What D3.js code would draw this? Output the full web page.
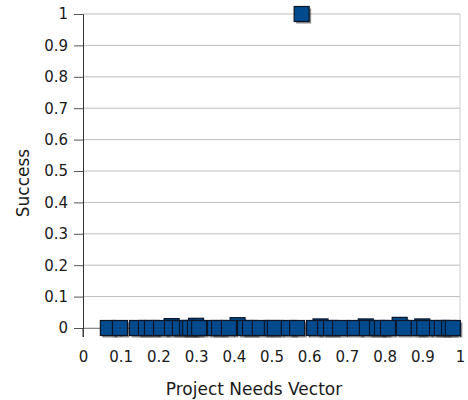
<!DOCTYPE html>
<html>
<head>
<meta charset="utf-8">
<script src="https://cdn.jsdelivr.net/npm/d3@7"></script>
<style>
  body { margin: 0; background: #fff; }
  text { font-family: "DejaVu Sans", sans-serif; fill: #1a1a1a; }
</style>
</head>
<body>
<div id="chart"></div>
<script>
var width = 468, height = 400
var margin = {top: 14, right: 8, bottom: 72, left: 83}

// needs vector values (x) and success (y)
var needsX = [0.235, 0.30, 0.41, 0.63, 0.75, 0.84, 0.90,
  0.066, 0.098, 0.143, 0.167, 0.183, 0.207, 0.236, 0.257, 0.276, 0.284,
  0.297, 0.308, 0.350, 0.361, 0.387, 0.430, 0.443, 0.469, 0.501, 0.509,
  0.546, 0.568, 0.613, 0.642, 0.658, 0.682, 0.721, 0.753, 0.780, 0.793,
  0.809, 0.851, 0.891, 0.905, 0.939, 0.952, 0.971, 0.981, 0.580]
var success = [0.006, 0.007, 0.009, 0.005, 0.005, 0.010, 0.005,
  0, 0, 0, 0, 0, 0, 0, 0, 0, 0,
  0, 0, 0, 0, 0, 0, 0, 0, 0, 0,
  0, 0, 0, 0, 0, 0, 0, 0, 0, 0,
  0, 0, 0, 0, 0, 0, 0, 0, 1]
var xTicks = [0, 0.1, 0.2, 0.3, 0.4, 0.5, 0.6, 0.7, 0.8, 0.9, 1]
var yTicks = [0, 0.1, 0.2, 0.3, 0.4, 0.5, 0.6, 0.7, 0.8, 0.9, 1]

var svg = d3.select("#chart")
  .append("svg")
    .attr("width", width)
    .attr("height", height)

var x = d3.scaleLinear()
  .domain([0, 1])
  .range([margin.left, width - margin.right])
var y = d3.scaleLinear()
  .domain([0, 1])
  .range([height - margin.bottom, margin.top])

// gridlines
svg.append("g")
  .selectAll("line")
  .data(yTicks)
  .enter()
  .append("line")
    .attr("x1", x(0))
    .attr("x2", x(1))
    .attr("y1", d => y(d))
    .attr("y2", d => y(d))
    .attr("stroke", "#bdbdbd")
    .attr("stroke-width", 1)

svg.append("line")
  .attr("x1", x(1)).attr("x2", x(1))
  .attr("y1", y(1)).attr("y2", y(0) + 8)
  .attr("stroke", "#cfcfcf")

var fmt = d => d === 0 || d === 1 ? String(d) : d3.format(".1f")(d)

var xAxis = svg.append("g")
  .attr("transform", `translate(0,${y(0)})`)
  .call(d3.axisBottom(x).tickValues(xTicks).tickFormat(fmt).tickSize(9).tickPadding(14))
xAxis.select(".domain").attr("stroke", "#8a8a8a")
xAxis.selectAll(".tick line").attr("stroke", "#555")
xAxis.selectAll("text").style("font-size", "15px").attr("fill", "#1a1a1a")

var yAxis = svg.append("g")
  .attr("transform", `translate(${x(0)},0)`)
  .call(d3.axisLeft(y).tickValues(yTicks).tickFormat(fmt).tickSize(9).tickPadding(6))
yAxis.select(".domain").attr("stroke", "#333")
yAxis.selectAll(".tick line").attr("stroke", "#555")
yAxis.selectAll("text").style("font-size", "15px").attr("fill", "#1a1a1a")

svg.append("line")
  .attr("x1", x(0)).attr("x2", x(0))
  .attr("y1", y(0)).attr("y2", y(0) + 9)
  .attr("stroke", "#333")

// markers
var pts = needsX.map((d, i) => ({x: d, y: success[i]}))
var s = 15
var g = svg.append("g")
pts.forEach(function (d) {
  g.append("rect")
    .attr("x", x(d.x) - s / 2 + 2)
    .attr("y", y(d.y) - s / 2 + 2)
    .attr("width", s)
    .attr("height", s)
    .attr("fill", "#2b2b2b")
    .attr("opacity", 0.55)
  g.append("rect")
    .attr("x", x(d.x) - s / 2)
    .attr("y", y(d.y) - s / 2)
    .attr("width", s)
    .attr("height", s)
    .attr("fill", "#004a8d")
    .attr("stroke", "#0b1526")
    .attr("stroke-width", 1.2)
})

svg.append("text")
  .attr("x", 254)
  .attr("y", 395)
  .attr("text-anchor", "middle")
  .style("font-size", "17px")
  .text("Project Needs Vector")

svg.append("text")
  .attr("transform", "translate(29,183) rotate(-90)")
  .attr("text-anchor", "middle")
  .style("font-size", "17px")
  .text("Success")
</script>
</body>
</html>
